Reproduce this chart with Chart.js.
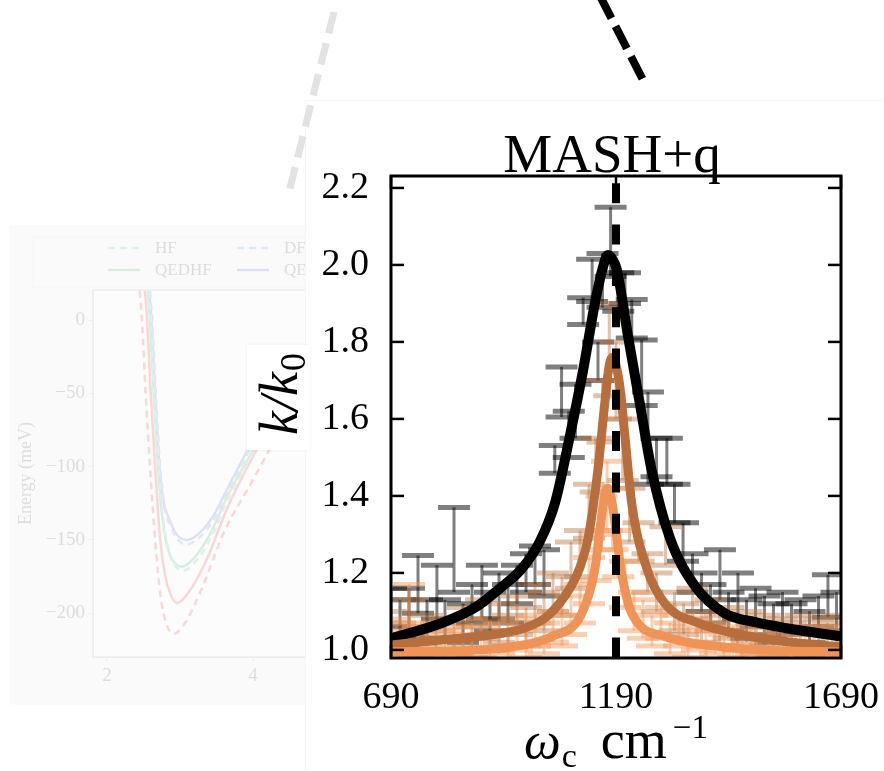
<!DOCTYPE html>
<html>
<head>
<meta charset="utf-8">
<script src="https://cdn.jsdelivr.net/npm/chart.js@4.4.0/dist/chart.umd.min.js"></script>
<style>
  html, body { margin: 0; padding: 0; background: #fff; }
  #page { position: relative; width: 884px; height: 771px; overflow: hidden; background: #fff; }
  #bg { position: absolute; left: 10px; top: 225px; opacity: 0.2; }
  #panel { position: absolute; left: 305px; top: 100px; width: 579px; height: 671px; background: #fff;
           border-left: 1px solid #f5f5f5; border-top: 1px solid #f7f7f7; }
  #labelBox { position: absolute; left: 247px; top: 345px; width: 63px; height: 105px; background: #fff;
              box-shadow: 0 0 3px rgba(0,0,0,0.07); }
  #deco { position: absolute; left: 0; top: 0; }
  #main { position: absolute; left: 0; top: 0; }
</style>
</head>
<body>
<div id="page">
  <canvas id="bg" width="340" height="480"></canvas>
  <div id="panel"></div>
  <div id="labelBox"></div>
  <svg id="deco" width="884" height="771">
    <line x1="334" y1="12" x2="288" y2="196" stroke="#e2e2e2" stroke-width="7" stroke-dasharray="22 10"/>
    <line x1="600" y1="-4" x2="643" y2="80" stroke="#000" stroke-width="8" stroke-dasharray="25 9"/>
  </svg>
  <canvas id="main" width="884" height="771"></canvas>
</div>
<script>
// ---- main panel: MASH+q ----
const titleText = 'MASH+q';
const xTicks = [690, 1190, 1690];
const yTicks = [1.0, 1.2, 1.4, 1.6, 1.8, 2.0, 2.2];
const resonance = 1190;

// fitted curves
const blackCurveX = [690, 803, 877, 932, 980, 1020, 1054, 1087, 1117, 1143, 1160, 1172, 1182, 1192, 1217, 1243, 1269, 1310, 1366, 1432, 1500, 1566, 1690];
const blackCurveY = [1.03, 1.07, 1.11, 1.16, 1.21, 1.28, 1.38, 1.553, 1.727, 1.90, 1.99, 2.026, 2.015, 1.987, 1.813, 1.64, 1.468, 1.29, 1.165, 1.095, 1.072, 1.057, 1.035];
const brownCurveX = [690, 800, 930, 990, 1040, 1090, 1110, 1128, 1150, 1165, 1175, 1182, 1190, 1199, 1210, 1225, 1259, 1299, 1372, 1466, 1580, 1690];
const brownCurveY = [1.013, 1.026, 1.042, 1.058, 1.09, 1.165, 1.215, 1.29, 1.47, 1.64, 1.74, 1.76, 1.74, 1.68, 1.553, 1.38, 1.21, 1.12, 1.07, 1.04, 1.02, 1.008];
const lightCurveX = [690, 850, 958, 1048, 1114, 1143, 1157, 1166, 1172, 1180, 1190, 1201, 1225, 1299, 1425, 1550, 1690];
const lightCurveY = [0.995, 0.998, 1.008, 1.035, 1.095, 1.21, 1.338, 1.41, 1.42, 1.39, 1.31, 1.21, 1.095, 1.035, 1.008, 0.998, 0.995];

// simulation points with error bars
const blackPtsX = [690,710,730,750,770,792,810,830,850,870,892,910,930,950,970,990,1010,1030,1054,1069,1085,1100,1117,1137,1150,1160,1178,1195,1210,1225,1247,1261,1280,1303,1320,1339,1360,1380,1400,1421,1440,1461,1480,1500,1520,1540,1560,1580,1600,1620,1640,1661,1680];
const blackPtsY = [1.11,1.08,1.10,1.17,1.08,1.15,1.08,1.26,1.07,1.12,1.15,1.10,1.14,1.12,1.17,1.20,1.22,1.20,1.495,1.67,1.56,1.62,1.88,1.96,1.75,1.96,2.06,1.93,1.94,1.86,1.72,1.55,1.50,1.49,1.38,1.28,1.20,1.15,1.12,1.195,1.10,1.14,1.08,1.11,1.09,1.07,1.10,1.08,1.09,1.06,1.10,1.14,1.10];
const blackPtsErr = [0.05,0.05,0.06,0.075,0.05,0.07,0.05,0.11,0.05,0.05,0.07,0.05,0.06,0.05,0.05,0.05,0.05,0.06,0.036,0.065,0.06,0.07,0.035,0.055,0.05,0.07,0.09,0.05,0.04,0.05,0.085,0.12,0.05,0.06,0.05,0.05,0.05,0.05,0.05,0.065,0.05,0.06,0.05,0.05,0.05,0.05,0.05,0.04,0.04,0.04,0.04,0.055,0.05];

const brownPtsX = [690,710,730,750,770,790,810,830,850,870,890,910,930,950,970,990,1010,1030,1050,1070,1090,1110,1130,1145,1160,1175,1190,1205,1220,1240,1260,1280,1300,1320,1340,1360,1380,1400,1420,1440,1460,1480,1500,1520,1540,1560,1580,1600,1620,1640,1660,1680];
const brownPtsY = [1.06,1.03,1.08,1.02,1.05,1.01,1.04,1.03,1.06,1.02,1.08,1.04,1.07,1.05,1.09,1.06,1.12,1.10,1.15,1.14,1.22,1.25,1.36,1.48,1.62,1.78,1.70,1.52,1.35,1.28,1.20,1.15,1.27,1.10,1.08,1.12,1.06,1.09,1.05,1.07,1.04,1.06,1.03,1.05,1.02,1.04,1.03,1.05,1.02,1.04,1.03,1.05];
const brownPtsErr = [0.04,0.04,0.05,0.04,0.04,0.04,0.04,0.04,0.05,0.04,0.05,0.04,0.05,0.04,0.05,0.05,0.05,0.05,0.05,0.05,0.06,0.06,0.07,0.07,0.08,0.12,0.10,0.08,0.07,0.05,0.05,0.05,0.05,0.05,0.04,0.04,0.04,0.04,0.04,0.04,0.04,0.04,0.04,0.04,0.04,0.04,0.04,0.04,0.04,0.04,0.04,0.04];

const lightPtsX = [690,710,730,750,770,790,810,830,850,870,890,910,930,950,970,990,1010,1030,1050,1070,1090,1110,1130,1145,1158,1170,1182,1195,1210,1230,1250,1270,1290,1310,1330,1350,1370,1390,1410,1430,1450,1470,1490,1510,1530,1550,1570,1590,1610,1630,1650,1670,1690];
const lightPtsY = [1.04,1.01,1.12,1.02,1.00,1.03,1.01,1.02,1.00,1.04,1.02,1.00,1.03,1.01,1.04,1.02,1.05,1.03,1.06,1.05,1.09,1.12,1.18,1.24,1.33,1.40,1.34,1.25,1.17,1.10,1.08,1.05,1.07,1.03,1.05,1.02,1.04,1.01,1.03,1.00,1.02,1.01,1.03,1.00,1.02,1.01,1.00,1.02,1.01,1.00,1.02,1.01,1.00];
const lightPtsErr = [0.04,0.04,0.05,0.04,0.04,0.04,0.04,0.04,0.04,0.04,0.04,0.04,0.04,0.04,0.04,0.04,0.04,0.04,0.04,0.04,0.05,0.05,0.06,0.06,0.07,0.09,0.08,0.06,0.06,0.05,0.05,0.04,0.04,0.04,0.04,0.04,0.04,0.04,0.04,0.04,0.04,0.04,0.04,0.04,0.04,0.04,0.04,0.04,0.04,0.04,0.04,0.04,0.04];

// ---- faded background panel (energy curves) ----
const bgXTicks = [2, 4];
const bgYTicks = [-200, -150, -100, -50, 0];
const hfX = [2.57, 2.60, 2.65, 2.71, 2.77, 2.84, 2.94, 3.04, 3.19, 3.41, 3.66, 4.00, 4.30, 4.70, 5.20];
const hfE = [20, 0, -50, -100, -136, -157, -168, -171, -166, -150, -122, -91, -66, -41, -22];
const qedhfX = [2.56, 2.59, 2.64, 2.70, 2.76, 2.83, 2.93, 3.03, 3.18, 3.40, 3.65, 4.00, 4.30, 4.70, 5.20];
const qedhfE = [20, 0, -50, -100, -135, -155, -166, -168, -163, -147, -120, -89, -65, -40, -22];
const dfX = [2.59, 2.62, 2.67, 2.73, 2.79, 2.85, 2.96, 3.08, 3.25, 3.45, 3.70, 4.00, 4.30, 4.70, 5.20];
const dfE = [20, 0, -50, -100, -128, -138, -149, -153, -149, -137, -113, -84, -60, -36, -19];
const qedfX = [2.58, 2.61, 2.66, 2.72, 2.78, 2.84, 2.95, 3.09, 3.25, 3.45, 3.70, 4.00, 4.30, 4.70, 5.20];
const qedfE = [20, 0, -50, -100, -125, -134, -146, -150, -146, -134, -110, -82, -58, -35, -18];
const redSolidX = [2.52, 2.55, 2.60, 2.66, 2.73, 2.80, 2.88, 2.96, 3.10, 3.35, 3.65, 4.00, 4.30, 4.70, 5.20];
const redSolidE = [20, 0, -50, -100, -150, -175, -188, -193, -187, -165, -128, -93, -68, -42, -23];
const redDashX = [2.45, 2.48, 2.53, 2.59, 2.66, 2.74, 2.82, 2.91, 3.05, 3.30, 3.60, 4.00, 4.30, 4.70, 5.20];
const redDashE = [20, 0, -50, -100, -150, -190, -208, -214, -208, -183, -145, -109, -82, -54, -30];

const serif = '"Liberation Serif", "DejaVu Serif", serif';
const pts = (xs, ys) => xs.map((x, i) => ({ x: x, y: ys[i] }));

// error bars under the curves
const errorBars = {
  id: 'errorBars',
  beforeDatasetsDraw(chart) {
    const { ctx, chartArea: a, scales: { x, y } } = chart;
    ctx.save();
    ctx.beginPath();
    ctx.rect(a.left, a.top, a.right - a.left, a.bottom - a.top);
    ctx.clip();
    chart.data.datasets.forEach(ds => {
      if (!ds.errs) return;
      ctx.strokeStyle = ds.errColor;
      ds.data.forEach((p, i) => {
        const px = x.getPixelForValue(p.x);
        const lo = y.getPixelForValue(p.y - ds.errs[i]);
        const hi = y.getPixelForValue(p.y + ds.errs[i]);
        ctx.lineWidth = 3;
        ctx.beginPath();
        ctx.moveTo(px, lo);
        ctx.lineTo(px, hi);
        ctx.stroke();
        ctx.lineWidth = 5;
        ctx.beginPath();
        ctx.moveTo(px - 16, lo); ctx.lineTo(px + 16, lo);
        ctx.moveTo(px - 16, hi); ctx.lineTo(px + 16, hi);
        ctx.stroke();
      });
    });
    ctx.restore();
  }
};

// frame, inward ticks, title and the two math-style axis titles
const frame = {
  id: 'frame',
  afterDraw(chart) {
    const { ctx, chartArea: a, scales: { x, y } } = chart;
    const seg = (x1, y1, x2, y2) => { ctx.beginPath(); ctx.moveTo(x1, y1); ctx.lineTo(x2, y2); ctx.stroke(); };
    ctx.save();
    ctx.strokeStyle = '#000';
    ctx.lineWidth = 2.5;
    y.ticks.forEach(t => {
      const py = y.getPixelForValue(t.value);
      seg(a.left, py, a.left + 13, py);
      seg(a.right, py, a.right - 13, py);
    });
    x.ticks.forEach(t => {
      const px = x.getPixelForValue(t.value);
      seg(px, a.top, px, a.top + 13);
      seg(px, a.bottom, px, a.bottom - 13);
    });
    ctx.lineWidth = 3;
    ctx.strokeRect(a.left, a.top, a.right - a.left, a.bottom - a.top);

    ctx.fillStyle = '#000';
    ctx.textBaseline = 'alphabetic';

    // panel title
    ctx.textAlign = 'center';
    ctx.font = '55px ' + serif;
    ctx.fillText(titleText, (a.left + a.right) / 2 - 4, 172);

    // x title: omega_c cm^-1
    ctx.textAlign = 'left';
    const parts = [
      { t: 'ω', f: 'italic 52px ' + serif, dy: 0, gap: 1 },
      { t: 'c', f: '34px ' + serif, dy: 9, gap: 24 },
      { t: 'cm', f: '54px ' + serif, dy: 0, gap: 6 },
      { t: '−1', f: '33px ' + serif, dy: -20, gap: 0 }
    ];
    let total = 0;
    parts.forEach(p => { ctx.font = p.f; p.w = ctx.measureText(p.t).width; total += p.w + p.gap; });
    let cx = (a.left + a.right) / 2 - total / 2;
    parts.forEach(p => { ctx.font = p.f; ctx.fillText(p.t, cx, 758 + p.dy); cx += p.w + p.gap; });

    // y title: k/k_0, rotated
    ctx.translate(297, 435);
    ctx.rotate(-Math.PI / 2);
    ctx.font = 'italic 54px ' + serif;
    ctx.fillText('k/k', 0, 0);
    const kw = ctx.measureText('k/k').width;
    ctx.font = '36px ' + serif;
    ctx.fillText('0', kw + 1, 8);
    ctx.restore();
  }
};

const errSet = (xs, ys, es, color) => ({
  type: 'line', data: pts(xs, ys), errs: es, errColor: color,
  showLine: false, pointRadius: 0, pointHoverRadius: 0
});
const curveSet = (xs, ys, color, w) => ({
  type: 'line', data: pts(xs, ys), borderColor: color, borderWidth: w,
  pointRadius: 0, cubicInterpolationMode: 'monotone', fill: false, clip: 0
});

new Chart(document.getElementById('main'), {
  type: 'line',
  data: {
    datasets: [
      { type: 'line', data: [{ x: resonance, y: 2.231 }, { x: resonance, y: 0.979 }],
        borderColor: '#000', borderWidth: 8, borderDash: [20, 21.3], borderDashOffset: 34,
        pointRadius: 0, clip: 0 },
      curveSet(lightCurveX, lightCurveY, '#ef9456', 9),
      curveSet(brownCurveX, brownCurveY, '#b86e3c', 9),
      curveSet(blackCurveX, blackCurveY, '#000000', 10),
      errSet(blackPtsX, blackPtsY, blackPtsErr, 'rgba(0,0,0,0.5)'),
      errSet(brownPtsX, brownPtsY, brownPtsErr, 'rgba(184,110,60,0.42)'),
      errSet(lightPtsX, lightPtsY, lightPtsErr, 'rgba(240,148,86,0.45)')
    ]
  },
  options: {
    responsive: false,
    animation: false,
    layout: { padding: { left: 0, right: 43, top: 176, bottom: 0 } },
    plugins: {
      legend: { display: false },
      tooltip: { enabled: false },
      title: { display: false }
    },
    scales: {
      x: {
        type: 'linear', min: 690, max: 1690,
        afterBuildTicks: s => { s.ticks = xTicks.map(v => ({ value: v })); },
        afterFit: s => { s.height = 113; s.paddingLeft = 0; s.paddingRight = 0; },
        grid: { display: false }, border: { display: false },
        ticks: { color: '#000', font: { family: serif, size: 38 }, padding: 9, maxRotation: 0,
                 callback: v => String(v) }
      },
      y: {
        type: 'linear', min: 0.979, max: 2.231,
        afterBuildTicks: s => { s.ticks = yTicks.map(v => ({ value: v })); },
        afterFit: s => { s.width = 391; s.paddingTop = 0; s.paddingBottom = 0; },
        grid: { display: false }, border: { display: false },
        ticks: { color: '#000', font: { family: serif, size: 38 }, padding: 14, callback: v => v.toFixed(1) }
      }
    }
  },
  plugins: [errorBars, frame]
});

// ---- faded chart behind ----
const bgPaint = {
  id: 'bgPaint',
  beforeDraw(chart) {
    const { ctx, chartArea: a, width, height } = chart;
    ctx.save();
    ctx.fillStyle = '#e9e9e9';
    ctx.fillRect(0, 0, width, height);
    ctx.fillStyle = '#f4f4f4';
    ctx.fillRect(a.left, a.top, a.right - a.left, a.bottom - a.top);
    ctx.restore();
  },
  afterDraw(chart) {
    const { ctx, chartArea: a } = chart;
    ctx.save();
    ctx.strokeStyle = '#aaa';
    ctx.lineWidth = 1.5;
    ctx.strokeRect(a.left, a.top, a.right - a.left, a.bottom - a.top);
    // legend box
    ctx.strokeStyle = '#c8c8c8';
    ctx.lineWidth = 1;
    ctx.strokeRect(23, 12, 320, 50);
    ctx.font = '17px ' + serif;
    ctx.fillStyle = '#555';
    ctx.textBaseline = 'middle';
    chart.data.datasets.forEach(ds => {
      if (!ds.slot) return;
      const [lx, ly] = ds.slot;
      ctx.strokeStyle = ds.borderColor;
      ctx.lineWidth = 2.5;
      ctx.setLineDash(ds.borderDash || []);
      ctx.beginPath(); ctx.moveTo(lx, ly); ctx.lineTo(lx + 32, ly); ctx.stroke();
      ctx.setLineDash([]);
      ctx.fillText(ds.label, lx + 47, ly + 1);
    });
    ctx.restore();
  }
};

const bgLine = (label, xs, es, color, dashed, slot) => ({
  label: label, data: pts(xs, es), borderColor: color, borderWidth: 2.5,
  borderDash: dashed ? [7, 5] : [], pointRadius: 0, cubicInterpolationMode: 'monotone',
  slot: slot, clip: 0
});

new Chart(document.getElementById('bg'), {
  type: 'line',
  data: {
    datasets: [
      bgLine('HF', hfX, hfE, '#5fb89c', true, [98, 23]),
      bgLine('DF', dfX, dfE, '#7088d6', true, [227, 23]),
      bgLine('QEDHF', qedhfX, qedhfE, '#3caa5f', false, [98, 45]),
      bgLine('QEDFT', qedfX, qedfE, '#5573cd', false, [227, 45]),
      bgLine('', redSolidX, redSolidE, '#e03c3c', false, null),
      bgLine('', redDashX, redDashE, '#e03c3c', true, null)
    ]
  },
  options: {
    responsive: false,
    animation: false,
    layout: { padding: { left: 0, right: 10, top: 65, bottom: 0 } },
    plugins: { legend: { display: false }, tooltip: { enabled: false } },
    scales: {
      x: {
        type: 'linear', min: 1.81, max: 5.19,
        afterBuildTicks: s => { s.ticks = bgXTicks.map(v => ({ value: v })); },
        afterFit: s => { s.height = 48; },
        grid: { drawOnChartArea: false, tickLength: 4, color: '#aaa' },
        border: { color: '#aaa' },
        ticks: { color: '#555', font: { family: serif, size: 19 }, padding: 4 }
      },
      y: {
        type: 'linear', min: -229.8, max: 20.5,
        afterBuildTicks: s => { s.ticks = bgYTicks.map(v => ({ value: v })); },
        afterFit: s => { s.width = 83; },
        grid: { drawOnChartArea: false, tickLength: 4, color: '#aaa' },
        border: { color: '#aaa' },
        ticks: { color: '#555', font: { family: serif, size: 19 }, padding: 4,
                 callback: v => String(v).replace('-', '−') },
        title: { display: true, text: 'Energy (meV)', color: '#555',
                 font: { family: serif, size: 18 }, padding: { top: 5, bottom: 0 } }
      }
    }
  },
  plugins: [bgPaint]
});
</script>
</body>
</html>
